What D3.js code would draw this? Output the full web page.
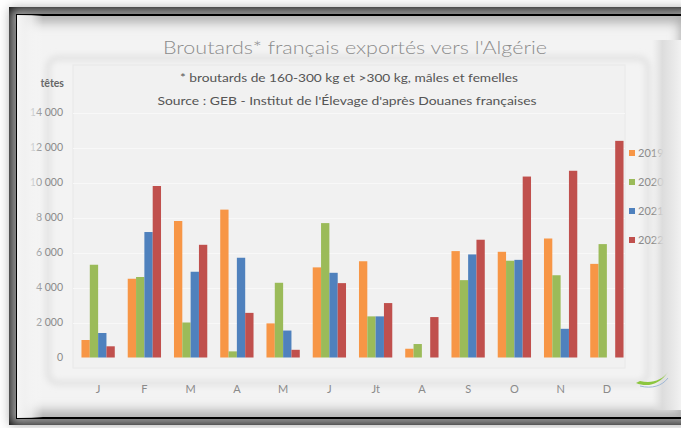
<!DOCTYPE html>
<html>
<head>
<meta charset="utf-8">
<script src="https://cdn.jsdelivr.net/npm/d3@7"></script>
<style>
  html, body { margin: 0; padding: 0; background: #ffffff; }
  svg { display: block; }
</style>
</head>
<body>
<svg id="chart" width="681" height="428"></svg>
<script>
// Monthly exports of French feeder cattle (broutards) to Algeria, in heads
const months = ["J", "F", "M", "A", "M", "J", "Jt", "A", "S", "O", "N", "D"];
const seriesNames = ["2019", "2020", "2021", "2022"];
const values2019 = [1000, 4500, 7800, 8450, 1950, 5150, 5500, 500, 6080, 6040, 6800, 5350];
const values2020 = [5300, 4600, 2000, 350, 4270, 7680, 2350, 770, 4420, 5530, 4700, 6480];
const values2021 = [1400, 7170, 4900, 5700, 1540, 4840, 2350, 0, 5890, 5580, 1640, 0];
const values2022 = [640, 9800, 6440, 2550, 440, 4250, 3110, 2310, 6730, 10340, 10670, 12380];
const yTicks = [0, 2000, 4000, 6000, 8000, 10000, 12000, 14000];
const seriesColors = ["#f79646", "#9bbb59", "#4f81bd", "#c0504d"];

const allSeries = [values2019, values2020, values2021, values2022];

const svg = d3.select("#chart");
const defs = svg.append("defs");

defs.append("filter").attr("id", "soft")
  .attr("x", "-10%").attr("y", "-10%").attr("width", "120%").attr("height", "120%")
  .append("feGaussianBlur").attr("stdDeviation", 6);

defs.append("filter").attr("id", "softer")
  .attr("x", "-10%").attr("y", "-10%").attr("width", "120%").attr("height", "120%")
  .append("feGaussianBlur").attr("stdDeviation", 3);

const leftFade = defs.append("linearGradient").attr("id", "leftFade")
  .attr("x1", "0").attr("x2", "1").attr("y1", "0").attr("y2", "0");
leftFade.append("stop").attr("offset", "0%").attr("stop-color", "#f6f6f6").attr("stop-opacity", 1);
leftFade.append("stop").attr("offset", "55%").attr("stop-color", "#f6f6f6").attr("stop-opacity", 0.75);
leftFade.append("stop").attr("offset", "100%").attr("stop-color", "#f6f6f6").attr("stop-opacity", 0);

const rightFade = defs.append("linearGradient").attr("id", "rightFade")
  .attr("x1", "0").attr("x2", "1").attr("y1", "0").attr("y2", "0");
rightFade.append("stop").attr("offset", "0%").attr("stop-color", "#e2e2e2").attr("stop-opacity", 0);
rightFade.append("stop").attr("offset", "35%").attr("stop-color", "#dadada").attr("stop-opacity", 0.9);
rightFade.append("stop").attr("offset", "100%").attr("stop-color", "#f2f2f2").attr("stop-opacity", 1);

// Black frame and shaded card
svg.append("rect").attr("x", 9).attr("y", 7).attr("width", 680).attr("height", 418).attr("fill", "#000");
svg.append("rect").attr("x", 17).attr("y", 15).attr("width", 670).attr("height", 403).attr("fill", "#f3f3f3");
svg.append("rect").attr("x", 17).attr("y", 15).attr("width", 670).attr("height", 403)
  .attr("fill", "none").attr("stroke", "#a9a9a9").attr("stroke-width", 14).attr("filter", "url(#soft)");
svg.append("rect").attr("x", 17).attr("y", 15).attr("width", 670).attr("height", 403)
  .attr("fill", "none").attr("stroke", "#000").attr("stroke-width", 2);

// Inner card outline
svg.append("rect").attr("x", 48).attr("y", 58).attr("width", 600).attr("height", 325).attr("rx", 10)
  .attr("fill", "none").attr("stroke", "#dcdcdc").attr("stroke-width", 4).attr("filter", "url(#softer)");

// Plot panel
const plot = { left: 75, right: 630, top: 65, bottom: 368 };
svg.append("rect").attr("x", 73).attr("y", plot.top).attr("width", 552).attr("height", plot.bottom - plot.top)
  .attr("fill", "#f1f1f1").attr("stroke", "#e8e8e8");

const x = d3.scaleBand().domain(d3.range(months.length))
  .range([plot.left, plot.right]).paddingInner(0.28).paddingOuter(0.14);
const xs = d3.scaleBand().domain(d3.range(seriesNames.length)).range([0, x.bandwidth()]);
const y = d3.scaleLinear().domain([0, 14000]).range([357.5, 112.5]);

const fmt = d3.formatLocale({ decimal: ",", thousands: " ", grouping: [3], currency: ["", " €"] }).format(",d");

// Faint gridlines
svg.append("g").selectAll("line").data(yTicks.slice(1)).join("line")
  .attr("x1", 73).attr("x2", 625)
  .attr("y1", d => Math.round(y(d)) + 0.5).attr("y2", d => Math.round(y(d)) + 0.5)
  .attr("stroke", "#f8f8f8");

// Y axis labels
const yAxis = d3.axisLeft(y).tickValues(yTicks).tickFormat(fmt).tickSize(0).tickPadding(0);
const yg = svg.append("g").attr("transform", "translate(63,0)").call(yAxis);
yg.select(".domain").remove();
yg.selectAll("text").attr("fill", "#8a8a8a").attr("font-family", "Lato, 'DejaVu Sans', sans-serif")
  .attr("font-size", 10.5);

svg.append("text").attr("x", 64).attr("y", 87).attr("text-anchor", "end")
  .attr("font-family", "Lato, 'DejaVu Sans', sans-serif").attr("font-size", 10.5).attr("font-weight", 700)
  .attr("fill", "#666").text("têtes");

// Bars
const groups = svg.append("g").selectAll("g").data(months).join("g")
  .attr("transform", (d, i) => `translate(${x(i)},0)`);
groups.selectAll("rect")
  .data((d, i) => allSeries.map((s, k) => ({ k, v: s[i] })).filter(o => o.v > 0))
  .join("rect")
  .attr("x", d => xs(d.k))
  .attr("width", xs.bandwidth())
  .attr("y", d => y(d.v))
  .attr("height", d => y(0) - y(d.v))
  .attr("fill", d => seriesColors[d.k]);

// X axis labels
const xAxis = d3.axisBottom(x).tickFormat(i => months[i]).tickSize(0).tickPadding(0);
const xg = svg.append("g").attr("transform", "translate(0,385)").call(xAxis);
xg.select(".domain").remove();
xg.selectAll("text").attr("fill", "#8a8a8a").attr("font-family", "Lato, 'DejaVu Sans', sans-serif")
  .attr("font-size", 11);

// Legend
const legend = svg.append("g").selectAll("g").data(seriesNames).join("g")
  .attr("transform", (d, i) => `translate(629,${153 + i * 29})`);
legend.append("rect").attr("x", 0).attr("y", -3).attr("width", 6).attr("height", 6)
  .attr("fill", (d, i) => seriesColors[i]);
legend.append("text").attr("x", 9).attr("y", 4)
  .attr("font-family", "Lato, 'DejaVu Sans', sans-serif").attr("font-size", 11).attr("fill", "#8a8a8a")
  .text(d => d);

// Titles
svg.append("text").attr("x", 355).attr("y", 54).attr("text-anchor", "middle")
  .attr("font-family", "Lato, 'DejaVu Sans', sans-serif").attr("font-weight", 300).attr("font-size", 18)
  .attr("fill", "#8c8c8c").attr("textLength", 384).attr("lengthAdjust", "spacingAndGlyphs")
  .text("Broutards* français exportés vers l'Algérie");
svg.append("text").attr("x", 349).attr("y", 82).attr("text-anchor", "middle")
  .attr("font-family", "Lato, 'DejaVu Sans', sans-serif").attr("font-size", 11)
  .attr("fill", "#555").attr("textLength", 338).attr("lengthAdjust", "spacingAndGlyphs")
  .text("* broutards de 160-300 kg et >300 kg, mâles et femelles");
svg.append("text").attr("x", 347).attr("y", 105).attr("text-anchor", "middle")
  .attr("font-family", "Lato, 'DejaVu Sans', sans-serif").attr("font-size", 11)
  .attr("fill", "#555").attr("textLength", 379).attr("lengthAdjust", "spacingAndGlyphs")
  .text("Source : GEB - Institut de l'Élevage d'après Douanes françaises");

// Edge shading over the outer labels
svg.append("rect").attr("x", 17).attr("y", 15).attr("width", 26).attr("height", 403).attr("fill", "url(#leftFade)");
svg.append("rect").attr("x", 652).attr("y", 40).attr("width", 29).attr("height", 370).attr("fill", "url(#rightFade)");

// Small logo mark
svg.append("path")
  .attr("d", "M636,383 C648,388 660,384 668,372 C662,380 652,384 640,381 Z")
  .attr("fill", "#8cc63f");
svg.append("path")
  .attr("d", "M640,386 C652,389 662,386 668,378")
  .attr("fill", "none").attr("stroke", "#9fb8d6").attr("stroke-width", 1);
</script>
</body>
</html>
